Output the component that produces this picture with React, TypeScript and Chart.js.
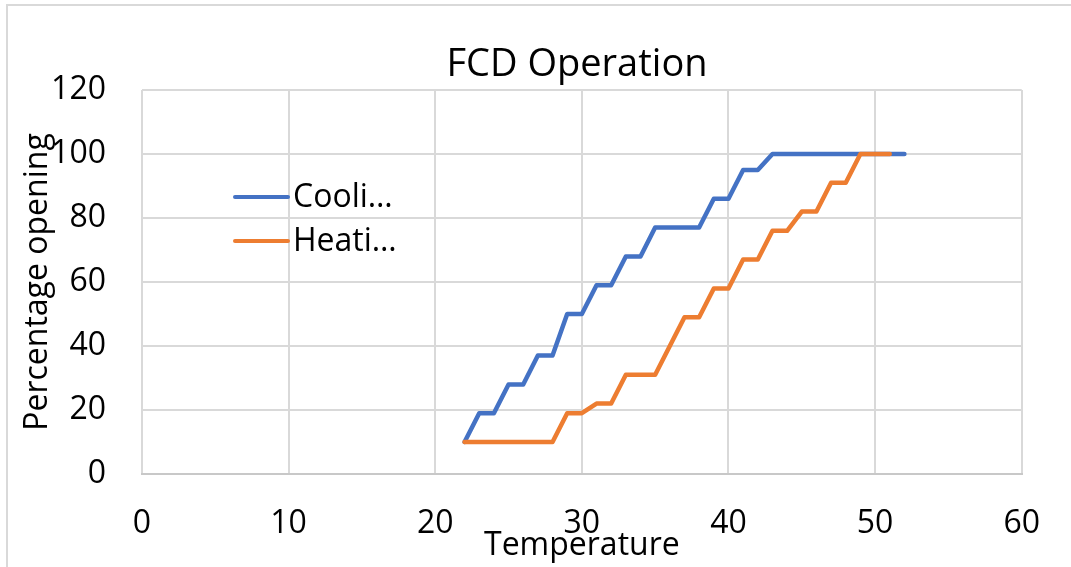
import React, { useEffect, useRef } from "react";
import { Chart, registerables } from "chart.js";

Chart.register(...registerables);

const chartTitle = "FCD Operation";
const xAxisTitle = "Temperature";
const yAxisTitle = "Percentage opening";
const legendLabels = ["Cooli…", "Heati…"];
const seriesNames = ["Cooling", "Heating"];
const seriesColors = ["#4472C4", "#ED7D31"];

const coolingTemps = [22, 23, 24, 25, 26, 27, 28, 29, 30, 31, 32, 33, 34, 35, 36, 37, 38, 39, 40, 41, 42, 43, 44, 45, 46, 47, 48, 49, 50, 51, 52];
const coolingOpening = [10, 19, 19, 28, 28, 37, 37, 50, 50, 59, 59, 68, 68, 77, 77, 77, 77, 86, 86, 95, 95, 100, 100, 100, 100, 100, 100, 100, 100, 100, 100];

const heatingTemps = [22, 23, 24, 25, 26, 27, 28, 29, 30, 31, 32, 33, 34, 35, 36, 37, 38, 39, 40, 41, 42, 43, 44, 45, 46, 47, 48, 49, 50, 51];
const heatingOpening = [10, 10, 10, 10, 10, 10, 10, 19, 19, 22, 22, 31, 31, 31, 40, 49, 49, 58, 58, 67, 67, 76, 76, 82, 82, 91, 91, 100, 100, 100];

const xMin = 0;
const xMax = 60;
const xStep = 10;
const yMin = 0;
const yMax = 120;
const yStep = 20;

const FONT = "'Open Sans', sans-serif";

const decorPlugin = {
  id: "decor",
  beforeDraw(chart: any) {
    const ctx = chart.ctx;
    ctx.save();
    ctx.fillStyle = "#ffffff";
    ctx.fillRect(0, 0, chart.width, chart.height);
    ctx.strokeStyle = "#d9d9d9";
    ctx.lineWidth = 2;
    ctx.beginPath();
    ctx.moveTo(7, chart.height + 2);
    ctx.lineTo(7, 5);
    ctx.lineTo(chart.width + 2, 5);
    ctx.stroke();
    ctx.restore();
  },
  afterDraw(chart: any) {
    const ctx = chart.ctx;
    const area = chart.chartArea;
    ctx.save();
    ctx.fillStyle = "#000";
    ctx.font = `38px ${FONT}`;
    ctx.textAlign = "center";
    ctx.textBaseline = "alphabetic";
    ctx.fillText(chartTitle, 577, 76);
    const lx = area.left + 93;
    const ys = [197, 241];
    legendLabels.forEach((lab, i) => {
      ctx.strokeStyle = seriesColors[i];
      ctx.lineWidth = 4;
      ctx.lineCap = "round";
      ctx.beginPath();
      ctx.moveTo(lx, ys[i]);
      ctx.lineTo(lx + 53, ys[i]);
      ctx.stroke();
      ctx.fillStyle = "#000";
      ctx.font = `32px ${FONT}`;
      ctx.textAlign = "left";
      ctx.textBaseline = "alphabetic";
      ctx.fillText(lab, lx + 58, ys[i] + 10);
    });
    ctx.restore();
  },
};

export default function App() {
  const canvasRef = useRef<HTMLCanvasElement | null>(null);

  useEffect(() => {
    if (!canvasRef.current) return;
    const chart = new Chart(canvasRef.current, {
      type: "line",
      data: {
        datasets: [
          {
            label: seriesNames[1],
            data: heatingTemps.map((t, i) => ({ x: t, y: heatingOpening[i] })),
            borderColor: seriesColors[1],
            backgroundColor: seriesColors[1],
            borderWidth: 4.5,
            pointRadius: 0,
            tension: 0,
            borderJoinStyle: "round",
            borderCapStyle: "round",
            fill: false,
          },
          {
            label: seriesNames[0],
            data: coolingTemps.map((t, i) => ({ x: t, y: coolingOpening[i] })),
            borderColor: seriesColors[0],
            backgroundColor: seriesColors[0],
            borderWidth: 4.5,
            pointRadius: 0,
            tension: 0,
            borderJoinStyle: "round",
            borderCapStyle: "round",
            fill: false,
          },
        ],
      },
      options: {
        responsive: false,
        animation: false,
        layout: { padding: { left: 0, right: 45, top: 90, bottom: 0 } },
        plugins: {
          legend: { display: false },
          title: { display: false },
          tooltip: { enabled: false },
        },
        scales: {
          x: {
            type: "linear",
            min: xMin,
            max: xMax,
            ticks: {
              stepSize: xStep,
              color: "#000",
              padding: 31,
              font: { family: FONT, size: 32 },
              maxRotation: 0,
            },
            grid: { color: "#d9d9d9", lineWidth: 2, drawTicks: false },
            border: { color: "#c8c8c8", width: 2 },
            title: {
              display: true,
              text: xAxisTitle,
              color: "#000",
              font: { family: FONT, size: 32 },
              padding: { top: 0, bottom: 2 },
            },
            afterFit: (scale: any) => {
              scale.height = 93;
            },
          },
          y: {
            type: "linear",
            min: yMin,
            max: yMax,
            ticks: {
              stepSize: yStep,
              color: "#000",
              padding: 36,
              font: { family: FONT, size: 32 },
            },
            grid: { color: "#d9d9d9", lineWidth: 2, drawTicks: false },
            border: { display: false },
            title: {
              display: true,
              text: yAxisTitle,
              color: "#000",
              font: { family: FONT, size: 32 },
              padding: { top: 19, bottom: 0 },
            },
            afterFit: (scale: any) => {
              scale.width = 142;
            },
          },
        },
      },
      plugins: [decorPlugin],
    });
    return () => chart.destroy();
  }, []);

  return (
    <div style={{ position: "fixed", left: 0, top: 0, width: 1071, height: 567, background: "#fff", overflow: "hidden" }}>
      <canvas ref={canvasRef} width={1071} height={567} style={{ display: "block" }} />
    </div>
  );
}
